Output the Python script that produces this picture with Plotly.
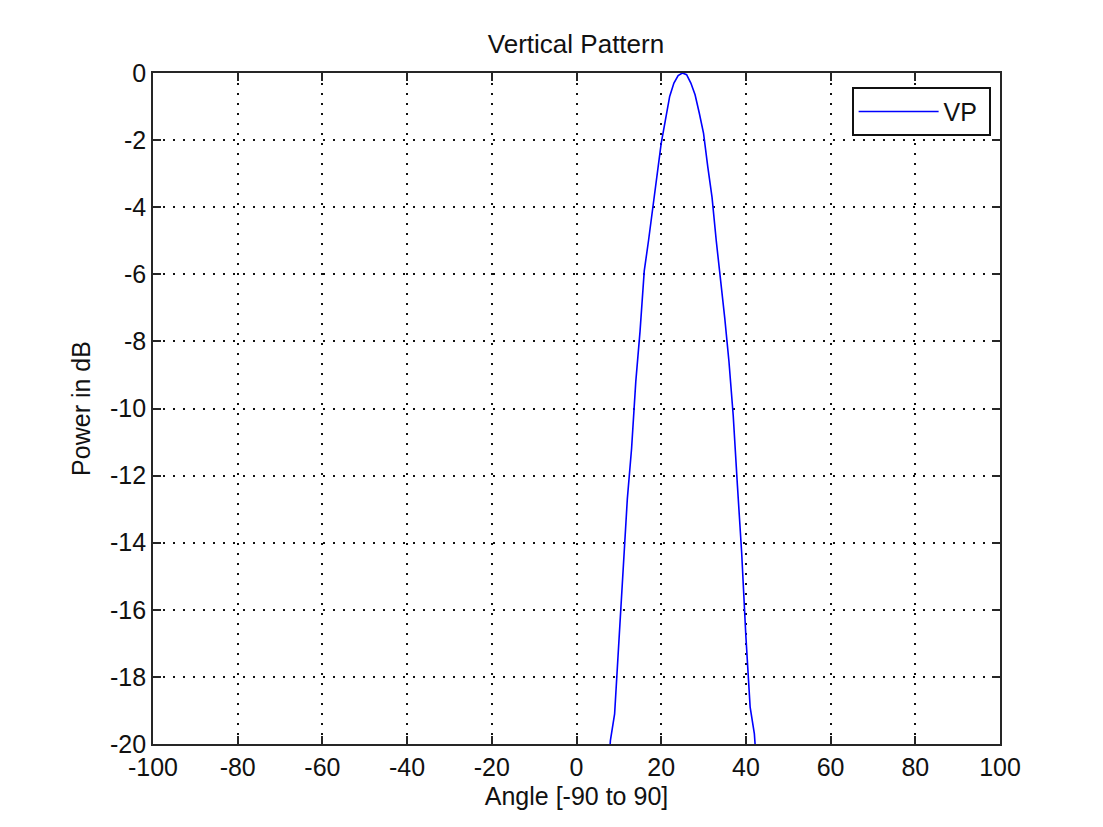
import plotly.graph_objects as go

# Vertical antenna pattern, sampled in degrees (values below -20 dB get clipped by the axis)
angle_deg = [7, 8, 9, 10, 11, 12, 13, 14, 15, 16, 17, 18, 19, 20, 21, 22, 23, 24, 25,
             26, 27, 28, 29, 30, 31, 32, 33, 34, 35, 36, 37, 38, 39, 40, 41, 42, 43]
power_db = [-22.0, -19.9, -19.1, -17.0, -15.1, -12.7, -11.2, -9.2, -7.7, -5.9, -5.0, -4.0,
            -3.1, -2.1, -1.4, -0.7, -0.3, -0.08, 0.0,
            -0.05, -0.3, -0.65, -1.2, -1.8, -2.8, -3.7, -5.0, -6.1, -7.3, -8.6, -10.2,
            -12.3, -14.3, -16.8, -18.9, -19.7, -21.5]

x_ticks = [-100, -80, -60, -40, -20, 0, 20, 40, 60, 80, 100]
x_labels = ["-100", "-80", "-60", "-40", "-20", "0", "20", "40", "60", "80", "100"]
y_ticks = [0, -2, -4, -6, -8, -10, -12, -14, -16, -18, -20]
y_labels = ["0", "-2", "-4", "-6", "-8", "-10", "-12", "-14", "-16", "-18", "-20"]

FONT = "Liberation Sans, Arial, sans-serif"
TXT = "#111111"

fig = go.Figure()

fig.add_trace(go.Scatter(
    x=angle_deg,
    y=power_db,
    mode="lines",
    name="VP\u00a0",
    line=dict(color="#0000FF", width=1.6),
))

axis_common = dict(
    showline=True,
    linecolor="#262626",
    linewidth=1.6,
    mirror="ticks",
    ticks="inside",
    ticklen=8,
    tickwidth=1.6,
    tickcolor="#262626",
    showgrid=True,
    gridcolor="#111111",
    gridwidth=1.5,
    griddash="1.5px,8.5px",
    zeroline=False,
    tickfont=dict(family=FONT, size=25, color=TXT),
)

# the page puts the figure 8px in from the top-left corner, so margins are relative to that
fig.update_layout(
    width=1103,
    height=827,
    paper_bgcolor="white",
    plot_bgcolor="white",
    margin=dict(l=145, r=111, t=65, b=91),
    title=dict(
        text="Vertical Pattern",
        x=568 / 1103, xanchor="center",
        y=1 - 36 / 827, yanchor="middle",
        font=dict(family=FONT, size=26, color=TXT),
    ),
    font=dict(family=FONT, size=25, color=TXT),
    showlegend=True,
    legend=dict(
        x=0.9894, xanchor="right",
        y=0.979, yanchor="top",
        bgcolor="white",
        bordercolor=TXT,
        borderwidth=1.6,
        itemwidth=80,
        font=dict(family=FONT, size=25, color=TXT),
    ),
    xaxis=dict(
        range=[-100, 100],
        tickvals=x_ticks,
        ticktext=x_labels,
        title=dict(text="Angle [-90 to 90]", standoff=8,
                   font=dict(family=FONT, size=25, color=TXT)),
        **axis_common,
    ),
    yaxis=dict(
        range=[-20, 0],
        tickvals=y_ticks,
        ticktext=y_labels,
        title=dict(text="Power in dB", standoff=12,
                   font=dict(family=FONT, size=25, color=TXT)),
        **axis_common,
    ),
)

fig.write_html("out.html")
